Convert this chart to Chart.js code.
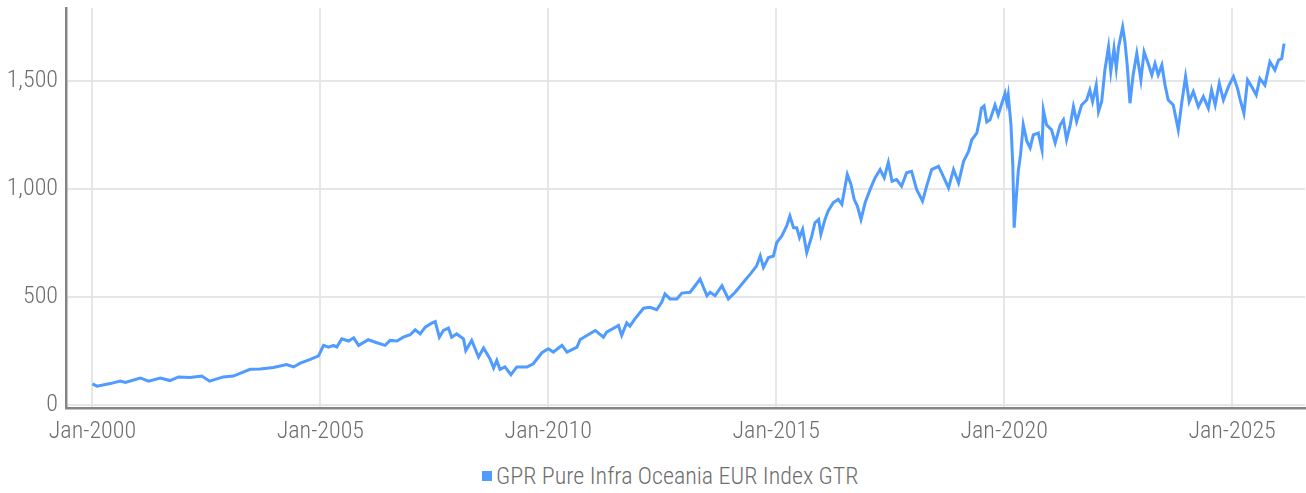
<!DOCTYPE html>
<html>
<head>
<meta charset="utf-8">
<script src="https://cdn.jsdelivr.net/npm/chart.js@4.4.1/dist/chart.umd.min.js"></script>
<style>
    html, body { margin: 0; padding: 0; background: #fff; }
    #wrap { position: relative; width: 1306px; height: 455px; }
    #legend {
        position: absolute; left: 482px; top: 462px;
        font-family: Roboto, sans-serif; font-weight: 300; font-stretch: condensed;
        font-size: 24px; color: #6e6e6e; white-space: nowrap;
        display: flex; align-items: center;
    }
    #legend span.box { display: inline-block; width: 10px; height: 10px; background: #4f9bff; margin-right: 4px; }
</style>
</head>
<body>
<div id="wrap"><canvas id="indexChart"></canvas></div>
<div id="legend"><span class="box"></span><span id="legendText"></span></div>
<script>
// Serie: fechas en años decimales
const seriesName = 'GPR Pure Infra Oceania EUR Index GTR';
const years = [
    2000.00, 2000.10, 2000.39, 2000.61, 2000.72, 2001.05, 2001.23, 2001.49, 2001.70, 2001.89,
    2002.14, 2002.40, 2002.57, 2002.87, 2003.09, 2003.46, 2003.68, 2003.97, 2004.26, 2004.41,
    2004.56, 2004.78, 2004.96, 2005.07, 2005.18, 2005.29, 2005.36, 2005.47, 2005.62, 2005.73,
    2005.84, 2006.05, 2006.24, 2006.42, 2006.53, 2006.68, 2006.82, 2006.97, 2007.08, 2007.19,
    2007.30, 2007.45, 2007.52, 2007.61, 2007.70, 2007.81, 2007.88, 2007.99, 2008.14, 2008.19,
    2008.32, 2008.47, 2008.58, 2008.72, 2008.80, 2008.87, 2008.94, 2009.05, 2009.18, 2009.31,
    2009.53, 2009.67, 2009.86, 2010.00, 2010.11, 2010.30, 2010.41, 2010.63, 2010.70, 2011.03,
    2011.21, 2011.28, 2011.54, 2011.61, 2011.72, 2011.79, 2011.90, 2012.09, 2012.23, 2012.38,
    2012.49, 2012.56, 2012.67, 2012.82, 2012.93, 2013.11, 2013.22, 2013.33, 2013.39, 2013.48,
    2013.55, 2013.66, 2013.81, 2013.95, 2014.10, 2014.28, 2014.43, 2014.57, 2014.65, 2014.72,
    2014.83, 2014.94, 2015.01, 2015.12, 2015.23, 2015.30, 2015.38, 2015.45, 2015.51, 2015.58,
    2015.67, 2015.78, 2015.85, 2015.93, 2015.98, 2016.07, 2016.14, 2016.25, 2016.36, 2016.44,
    2016.56, 2016.64, 2016.71, 2016.78, 2016.86, 2016.95, 2017.06, 2017.17, 2017.28, 2017.37,
    2017.46, 2017.54, 2017.64, 2017.75, 2017.86, 2017.97, 2018.08, 2018.21, 2018.30, 2018.41,
    2018.56, 2018.63, 2018.78, 2018.89, 2019.00, 2019.11, 2019.22, 2019.29, 2019.40, 2019.46,
    2019.50, 2019.56, 2019.62, 2019.69, 2019.80, 2019.87, 2019.95, 2020.02, 2020.06, 2020.09,
    2020.15, 2020.19, 2020.22, 2020.26, 2020.31, 2020.36, 2020.42, 2020.50, 2020.57, 2020.64,
    2020.75, 2020.83, 2020.86, 2020.93, 2021.04, 2021.12, 2021.23, 2021.30, 2021.37, 2021.45,
    2021.52, 2021.59, 2021.70, 2021.81, 2021.88, 2021.94, 2022.02, 2022.07, 2022.14, 2022.21,
    2022.29, 2022.34, 2022.41, 2022.46, 2022.51, 2022.60, 2022.65, 2022.70, 2022.76, 2022.83,
    2022.91, 2023.00, 2023.07, 2023.16, 2023.24, 2023.31, 2023.38, 2023.46, 2023.53, 2023.60,
    2023.71, 2023.82, 2023.90, 2023.98, 2024.06, 2024.15, 2024.26, 2024.37, 2024.48, 2024.55,
    2024.63, 2024.72, 2024.81, 2024.92, 2025.03, 2025.12, 2025.17, 2025.26, 2025.34, 2025.43,
    2025.53, 2025.61, 2025.72, 2025.83, 2025.94, 2026.02, 2026.09, 2026.14
];
const values = [
    98, 87, 99, 111, 104, 125, 110, 125, 113, 130,
    127, 134, 110, 130, 134, 165, 167, 174, 187, 176,
    194, 211, 227, 276, 268, 276, 268, 306, 296, 311,
    276, 302, 288, 276, 299, 296, 314, 325, 348, 329,
    360, 380, 386, 314, 345, 356, 314, 329, 306, 252,
    299, 222, 264, 214, 171, 206, 165, 176, 140, 176,
    176, 191, 242, 260, 245, 276, 245, 268, 303, 345,
    314, 337, 368, 322, 380, 365, 399, 448, 452, 441,
    476, 514, 491, 491, 518, 522, 552, 583, 552, 506,
    522, 506, 552, 491, 522, 568, 606, 644, 690, 637,
    683, 690, 752, 782, 829, 875, 821, 821, 775, 813,
    706, 782, 844, 859, 790, 859, 898, 936, 952, 929,
    1067, 1021, 952, 921, 859, 936, 998, 1052, 1090, 1052,
    1123, 1036, 1044, 1013, 1075, 1082, 998, 944, 1013, 1090,
    1105, 1075, 1005, 1090, 1028, 1128, 1174, 1228, 1259, 1320,
    1374, 1385, 1310, 1320, 1389, 1343, 1397, 1443, 1397, 1435,
    1297, 1113, 821, 944, 1082, 1159, 1297, 1220, 1190, 1251,
    1259, 1182, 1366, 1297, 1274, 1213, 1297, 1320, 1228, 1297,
    1381, 1312, 1389, 1412, 1458, 1405, 1481, 1358, 1405, 1551,
    1658, 1543, 1651, 1558, 1658, 1750, 1681, 1574, 1397, 1528,
    1628, 1505, 1635, 1581, 1528, 1581, 1528, 1574, 1481, 1412,
    1389, 1274, 1405, 1520, 1405, 1451, 1381, 1428, 1374, 1458,
    1389, 1489, 1412, 1474, 1520, 1466, 1420, 1351, 1505, 1474,
    1435, 1512, 1481, 1589, 1551, 1597, 1604, 1673
];
const yTicks = [0, 500, 1000, 1500];
const xTicks = [2000, 2005, 2010, 2015, 2020, 2025];

const lineColor = '#4f9bff';
const textColor = '#6e6e6e';
const tickFont = { family: 'Roboto, sans-serif', size: 24, weight: 'condensed 300' };

document.getElementById('legendText').textContent = seriesName;

const points = years.map((x, i) => ({ x: x, y: values[i] }));

const ctx = document.getElementById('indexChart').getContext('2d');
const indexChart = new Chart(ctx, {
    type: 'line',
    data: {
        datasets: [{
            label: seriesName,
            data: points,
            borderColor: lineColor,
            backgroundColor: lineColor,
            borderWidth: 3,
            pointRadius: 0,
            tension: 0
        }]
    },
    options: {
        responsive: true,
        maintainAspectRatio: false,
        animation: false,
        layout: { padding: { top: 8, right: 1, left: 0, bottom: 0 } },
        plugins: {
            legend: { display: false },
            tooltip: { enabled: false }
        },
        scales: {
            x: {
                type: 'linear',
                min: 1999.42,
                max: 2026.6,
                afterBuildTicks: function(scale) {
                    scale.ticks = xTicks.map(v => ({ value: v }));
                },
                afterFit: function(scale) {
                    scale.height = 47;
                    scale.paddingLeft = 0;
                    scale.paddingRight = 0;
                },
                grid: { color: '#e6e6e6', lineWidth: 2, drawTicks: false },
                border: { color: '#858585', width: 2.5 },
                ticks: {
                    color: textColor,
                    padding: 10,
                    maxRotation: 0,
                    font: tickFont,
                    callback: function(value) { return 'Jan-' + value; }
                }
            },
            y: {
                min: -14,
                max: 1838,
                afterBuildTicks: function(scale) {
                    scale.ticks = yTicks.map(v => ({ value: v }));
                },
                afterFit: function(scale) {
                    scale.width = 66;
                    scale.paddingTop = 0;
                    scale.paddingBottom = 0;
                },
                grid: { color: '#e6e6e6', lineWidth: 2, drawTicks: false },
                border: { color: '#858585', width: 2.5 },
                ticks: {
                    color: textColor,
                    padding: 8,
                    font: tickFont,
                    callback: function(value) { return value.toLocaleString('en-US'); }
                }
            }
        }
    }
});
</script>
</body>
</html>
